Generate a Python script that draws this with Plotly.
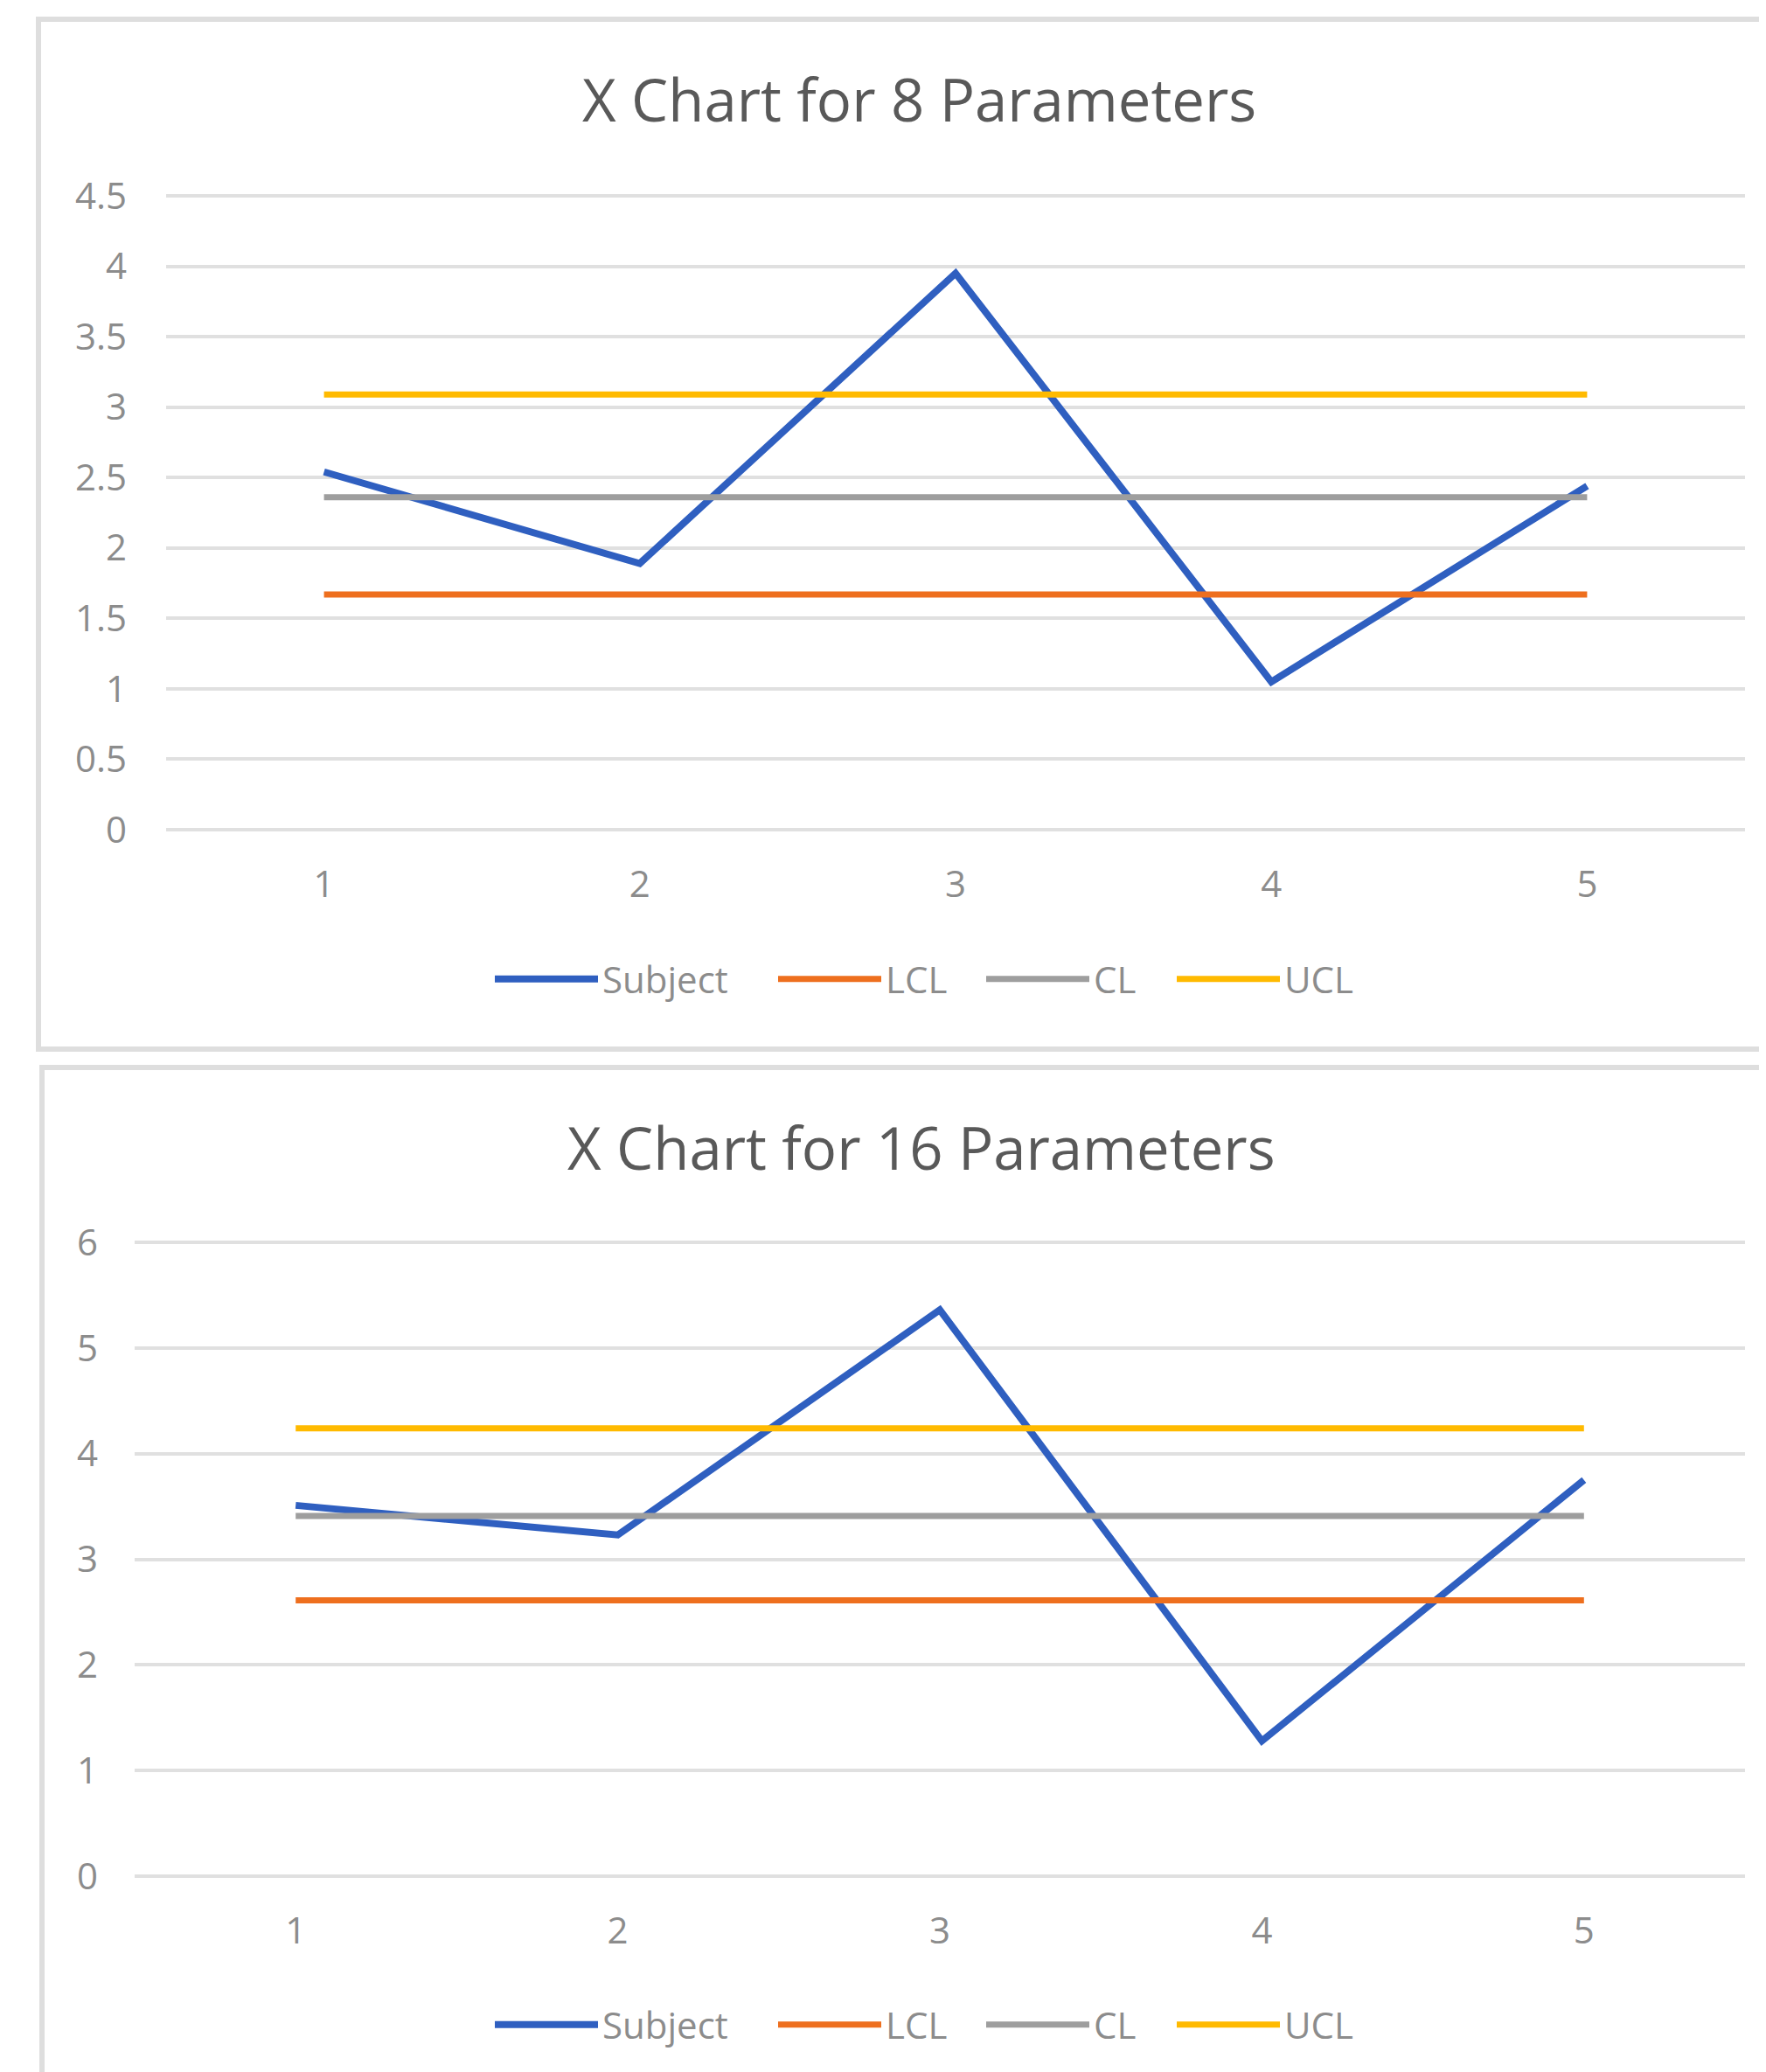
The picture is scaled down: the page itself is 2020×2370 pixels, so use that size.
import plotly.graph_objects as go

W, H = 2020, 2370       # target picture size
OFF = 8                  # default page body margin
FW, FH = W - OFF, H - OFF  # figure size so that figure pixels map onto screen pixels

samples = [1, 2, 3, 4, 5]
tick_labels = ["1", "2", "3", "4", "5"]

# Chart 1: X Chart for 8 Parameters
subject_8 = [2.54, 1.89, 3.95, 1.05, 2.44]
lcl_8 = [1.67, 1.67, 1.67, 1.67, 1.67]
cl_8 = [2.36, 2.36, 2.36, 2.36, 2.36]
ucl_8 = [3.09, 3.09, 3.09, 3.09, 3.09]
yticks_8 = [0, 0.5, 1, 1.5, 2, 2.5, 3, 3.5, 4, 4.5]

# Chart 2: X Chart for 16 Parameters
subject_16 = [3.51, 3.23, 5.36, 1.28, 3.75]
lcl_16 = [2.61, 2.61, 2.61, 2.61, 2.61]
cl_16 = [3.41, 3.41, 3.41, 3.41, 3.41]
ucl_16 = [4.24, 4.24, 4.24, 4.24, 4.24]
yticks_16 = [0, 1, 2, 3, 4, 5, 6]

series_names = ["Subject", "LCL", "CL", "UCL"]
colors = {"Subject": "#2F5FC0", "LCL": "#EE6F1E", "CL": "#9E9E9E", "UCL": "#FFBA00"}
widths = {"Subject": 8, "LCL": 7, "CL": 7, "UCL": 7}
legend_line_start = {"Subject": 566, "LCL": 890, "CL": 1128, "UCL": 1346}

FONT = "Open Sans"
TXT = "#8C8C8C"
GRID = "#E0E0E0"
LEG_FS = 42


def px_x(v):
    return (v - OFF) / FW


def px_y(v):
    return 1 - (v - OFF) / FH


fig = go.Figure()
legend_layouts = {}
leg_counter = [0]


def add_chart(data, xa, ya, legend_y):
    for name, vals in zip(series_names, data):
        leg_counter[0] += 1
        lid = "legend" if leg_counter[0] == 1 else f"legend{leg_counter[0]}"
        fig.add_trace(go.Scatter(
            x=samples, y=vals, mode="lines", name=name,
            line=dict(color=colors[name], width=widths[name]),
            xaxis=xa, yaxis=ya, legend=lid, hoverinfo="skip"))
        legend_layouts[lid] = dict(
            orientation="h", x=px_x(legend_line_start[name] - 5), xanchor="left",
            y=px_y(legend_y), yanchor="middle", itemwidth=118,
            font=dict(family=FONT, size=LEG_FS, color=TXT),
            bgcolor="rgba(0,0,0,0)", borderwidth=0)


add_chart([subject_8, lcl_8, cl_8, ucl_8], "x", "y", 1120)
add_chart([subject_16, lcl_16, cl_16, ucl_16], "x2", "y2", 2316)

xcommon = dict(range=[0.5, 5.5], tickvals=samples, ticktext=tick_labels,
               showgrid=False, zeroline=False, showline=False, ticks="",
               tickfont=dict(family=FONT, size=42, color=TXT), fixedrange=True)
ycommon = dict(showgrid=True, gridcolor=GRID, gridwidth=4, zeroline=True,
               zerolinecolor=GRID, zerolinewidth=4, showline=False, ticks="",
               tickfont=dict(family=FONT, size=42, color=TXT), fixedrange=True)

# top chart: 4.5 at y=224, 0 at y=949 ; range padded slightly so top grid line shows
u1 = (949 - 224) / 4.5
top1 = 4.52
# bottom chart: 6 at y=1421, 0 at y=2146
u2 = (2146 - 1421) / 6
top2 = 6.02

fig.update_layout(
    width=FW, height=FH,
    margin=dict(l=0, r=0, t=0, b=0, autoexpand=False),
    paper_bgcolor="white", plot_bgcolor="white",
    xaxis=dict(domain=[px_x(190), px_x(1996)], anchor="y", ticklabelstandoff=34, **xcommon),
    yaxis=dict(domain=[px_y(949), px_y(949 - u1 * top1)], anchor="x", range=[0, top1],
               tickvals=yticks_8, ticktext=[f"{v:g}" for v in yticks_8],
               ticklabelstandoff=44, **ycommon),
    xaxis2=dict(domain=[px_x(154), px_x(1996)], anchor="y2", ticklabelstandoff=34, **xcommon),
    yaxis2=dict(domain=[px_y(2146), px_y(2146 - u2 * top2)], anchor="x2", range=[0, top2],
                tickvals=yticks_16, ticktext=[f"{v:g}" for v in yticks_16],
                ticklabelstandoff=41, **ycommon),
    showlegend=True,
    **legend_layouts,
)

titles = [("X Chart for 8 Parameters", 1051, 113), ("X Chart for 16 Parameters", 1054, 1312)]
for text, cx, cy in titles:
    fig.add_annotation(text=text, x=px_x(cx), y=px_y(cy), xref="paper", yref="paper",
                       showarrow=False, xanchor="center", yanchor="middle",
                       font=dict(family=FONT, size=67, color="#595959"))

# chart frames
fig.add_shape(type="rect", xref="paper", yref="paper",
              x0=px_x(44), x1=px_x(2040), y0=px_y(1200), y1=px_y(22),
              line=dict(color="#DEDEDE", width=6), fillcolor="rgba(0,0,0,0)", layer="below")
fig.add_shape(type="rect", xref="paper", yref="paper",
              x0=px_x(48), x1=px_x(2040), y0=px_y(2400), y1=px_y(1221),
              line=dict(color="#DEDEDE", width=6), fillcolor="rgba(0,0,0,0)", layer="below")

fig.write_html("out.html")
